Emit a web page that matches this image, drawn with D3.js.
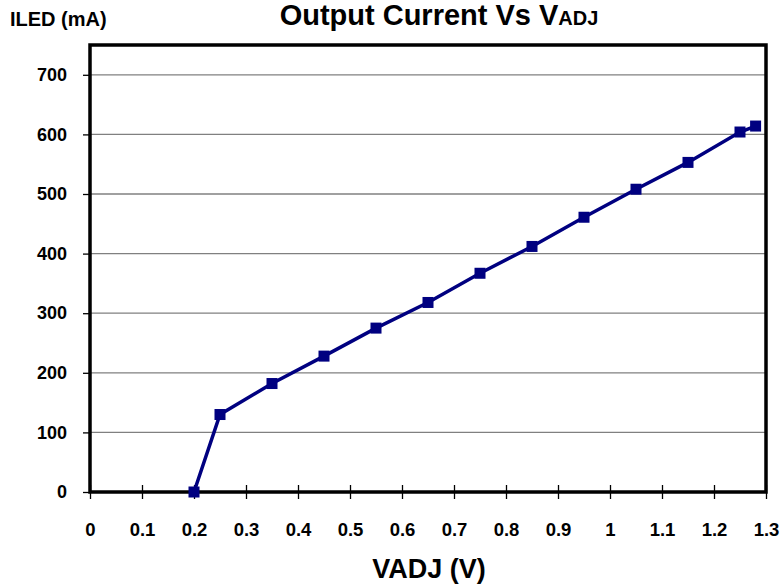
<!DOCTYPE html>
<html><head><meta charset="utf-8">
<script src="https://cdn.jsdelivr.net/npm/d3@7"></script>
<style>
html,body{margin:0;padding:0;background:#fff;}
text{font-family:"Liberation Sans",Arial,sans-serif;font-weight:bold;fill:#000;}
</style></head>
<body>
<svg id="chart" width="782" height="585"></svg>
<script>
const vadj = [0.2, 0.25, 0.35, 0.45, 0.55, 0.65, 0.75, 0.85, 0.95, 1.05, 1.15, 1.25, 1.28];
const iled = [0, 130, 182, 228, 275, 318, 367, 412, 461, 508, 553, 604, 614];
const xTicks = [0, 0.1, 0.2, 0.3, 0.4, 0.5, 0.6, 0.7, 0.8, 0.9, 1, 1.1, 1.2, 1.3];
const yTicks = [0, 100, 200, 300, 400, 500, 600, 700];

const svg = d3.select("#chart");
const m = {left: 90, right: 766, top: 45, bottom: 492};
const x = d3.scaleLinear().domain([0, 1.3]).range([m.left, m.right]);
const y = d3.scaleLinear().domain([0, 750]).range([m.bottom, m.top]);

// gridlines
svg.append("g").selectAll("line").data(yTicks.filter(d => d > 0)).join("line")
  .attr("x1", m.left).attr("x2", m.right)
  .attr("y1", d => y(d)).attr("y2", d => y(d))
  .attr("stroke", "#808080").attr("stroke-width", 1.3);

// y axis
const yAxis = d3.axisLeft(y).tickValues(yTicks).tickSize(7).tickPadding(16).tickFormat(d3.format("d"));
const gy = svg.append("g").attr("transform", `translate(${m.left},0)`).call(yAxis);
gy.select(".domain").remove();
gy.selectAll(".tick line").attr("stroke", "#000").attr("stroke-width", 1.3);
gy.selectAll(".tick text").style("font-size", "18px").attr("fill", "#000");

// x axis
const xAxis = d3.axisBottom(x).tickValues(xTicks).tickSize(7).tickPadding(24).tickFormat(d => d3.format("")(d));
const gx = svg.append("g").attr("transform", `translate(0,${m.bottom})`).call(xAxis);
gx.select(".domain").remove();
gx.selectAll(".tick line").attr("y1", -7).attr("stroke", "#000").attr("stroke-width", 1.3);
gx.selectAll(".tick text").style("font-size", "18.5px").attr("fill", "#000");

// frame
svg.append("rect").attr("x", m.left).attr("y", m.top)
  .attr("width", m.right - m.left).attr("height", m.bottom - m.top)
  .attr("fill", "none").attr("stroke", "#000").attr("stroke-width", 3.5);

// line
const line = d3.line().x((d, i) => x(vadj[i])).y(d => y(d));
svg.append("path").datum(iled).attr("d", line)
  .attr("fill", "none").attr("stroke", "#000080").attr("stroke-width", 3.5);

// markers
svg.append("g").selectAll("rect").data(iled).join("rect")
  .attr("x", (d, i) => x(vadj[i]) - 5.5).attr("y", d => y(d) - 5.5)
  .attr("width", 11).attr("height", 11).attr("fill", "#000080");

// titles
const t = svg.append("text").attr("x", 439).attr("y", 25).attr("text-anchor", "middle").style("font-size", "29px");
t.append("tspan").text("Output Current Vs V");
t.append("tspan").style("font-size", "20px").text("ADJ");

svg.append("text").attr("x", 10).attr("y", 26).style("font-size", "20px").text("ILED (mA)");
svg.append("text").attr("x", 429).attr("y", 578).attr("text-anchor", "middle").style("font-size", "27px").text("VADJ (V)");
</script>
</body></html>
